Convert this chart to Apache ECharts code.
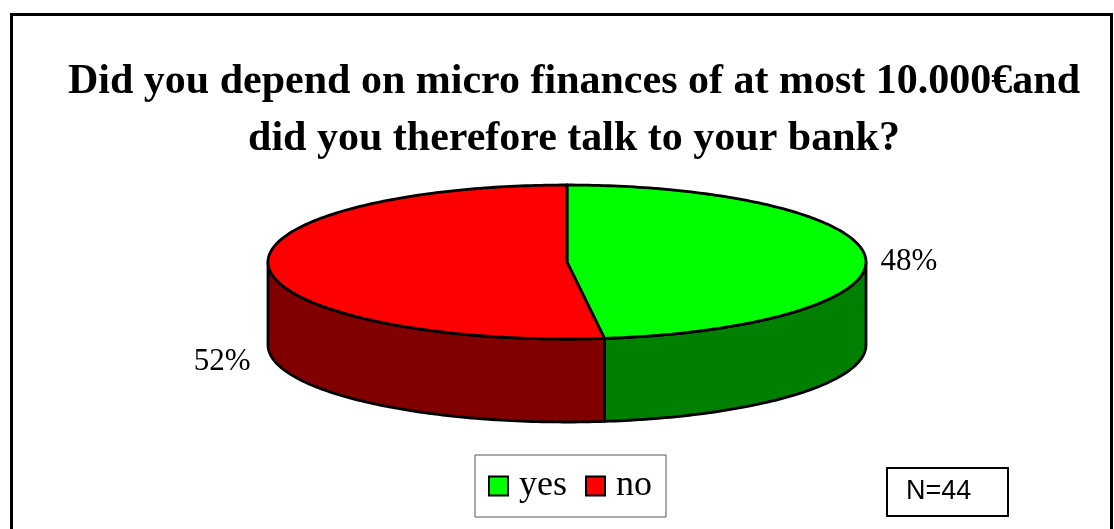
<!DOCTYPE html>
<html>
<head>
<meta charset="utf-8">
<script src="https://cdn.jsdelivr.net/npm/echarts@6/dist/echarts.min.js"></script>
<style>
  html, body { margin: 0; padding: 0; background: #fff; }
  #chart { width: 1114px; height: 529px; }
</style>
</head>
<body>
<div id="chart"></div>
<script>
// ---- data ----
const categories = ['yes', 'no'];
const values = [48, 52];            // percent
const titleLines = [
  'Did you depend on micro finances of at most 10.000€and',
  'did you therefore talk to your bank?'
];
const sampleNote = 'N=44';

// ---- layout / style constants ----
const SERIF = "'Liberation Serif', 'Times New Roman', serif";
const SANS = "'Liberation Sans', Arial, sans-serif";
const topColors = ['#00ff00', '#ff0000'];
const sideColors = ['#008000', '#800000'];
const PIE = { cx: 567, cy: 262, rx: 299, ry: 77, depth: 83, start: 90 };
const LABEL_SHIFT = [[15, 5], [-18, 95]];

function pt(theta, dy) {
  const r = theta * Math.PI / 180;
  return [PIE.cx + PIE.rx * Math.cos(r), PIE.cy - PIE.ry * Math.sin(r) + (dy || 0)];
}
function arc(from, to, dy) {
  const pts = [];
  const n = Math.max(2, Math.ceil(Math.abs(to - from)));
  for (let k = 0; k <= n; k++) pts.push(pt(from + (to - from) * k / n, dy));
  return pts;
}

function renderSlice(params, api) {
  const i = params.seriesIndex;
  const total = values.reduce((a, b) => a + b, 0);
  const before = values.slice(0, i).reduce((a, b) => a + b, 0);
  const s = PIE.start - before / total * 360;
  const e = s - api.value(0) / total * 360;
  const children = [];
  // visible side (front half: theta in [-180, 0] mod 360)
  for (let k = -2; k <= 1; k++) {
    const lo = Math.max(e, -180 + 360 * k);
    const hi = Math.min(s, 360 * k);
    if (lo < hi) {
      const pts = arc(lo, hi, 0).concat(arc(hi, lo, PIE.depth));
      children.push({
        type: 'polygon',
        shape: { points: pts },
        style: { fill: sideColors[i], stroke: '#000', lineWidth: 2.8, lineJoin: 'round' }
      });
    }
  }
  // top face
  const topPts = [[PIE.cx, PIE.cy]].concat(arc(s, e, 0));
  children.push({
    type: 'polygon',
    shape: { points: topPts },
    style: { fill: topColors[i], stroke: '#000', lineWidth: 2.8, lineJoin: 'round' }
  });
  // label
  const mid = (s + e) / 2;
  const p = pt(mid, 0);
  const right = Math.cos(mid * Math.PI / 180) >= 0;
  children.push({
    type: 'text',
    style: {
      text: Math.round(api.value(0)) + '%',
      x: p[0] + LABEL_SHIFT[i][0],
      y: p[1] + LABEL_SHIFT[i][1],
      align: right ? 'left' : 'right',
      verticalAlign: 'middle',
      fill: '#000',
      font: '31px ' + SERIF
    }
  });
  return { type: 'group', children: children };
}

const chart = echarts.init(document.getElementById('chart'), null, { renderer: 'canvas' });
chart.setOption({
  animation: false,
  backgroundColor: '#fff',
  color: topColors,
  title: [
    {
      text: titleLines.join('\n'),
      left: 569, top: 49, textAlign: 'center',
      textStyle: { fontFamily: SERIF, fontWeight: 'bold', fontSize: 42, lineHeight: 57, color: '#000' }
    },
    {
      text: sampleNote,
      left: 887, top: 468,
      borderWidth: 2, borderColor: '#000',
      padding: [11, 37, 11, 19],
      textStyle: { fontFamily: SANS, fontWeight: 'normal', fontSize: 27, lineHeight: 26, color: '#000' }
    }
  ],
  legend: {
    data: categories,
    left: 475, top: 455,
    orient: 'horizontal',
    icon: 'rect',
    itemWidth: 19, itemHeight: 19,
    itemGap: 18,
    padding: [12, 14, 12, 13],
    backgroundColor: '#fff',
    borderColor: '#555', borderWidth: 1, borderRadius: 0,
    itemStyle: { borderColor: '#000', borderWidth: 2 },
    textStyle: { fontFamily: SERIF, fontSize: 36, lineHeight: 34, color: '#000', padding: [4, 0, 0, 6] },
    selectedMode: false
  },
  graphic: [{
    type: 'rect',
    shape: { x: 11.5, y: 14.5, width: 1100, height: 600 },
    style: { fill: 'none', stroke: '#000', lineWidth: 3 },
    silent: true, z: 100
  }],
  series: categories.map((name, i) => ({
    type: 'custom',
    name: name,
    coordinateSystem: 'none',
    itemStyle: { color: topColors[i] },
    renderItem: renderSlice,
    data: [[values[i]]]
  }))
});
</script>
</body>
</html>
